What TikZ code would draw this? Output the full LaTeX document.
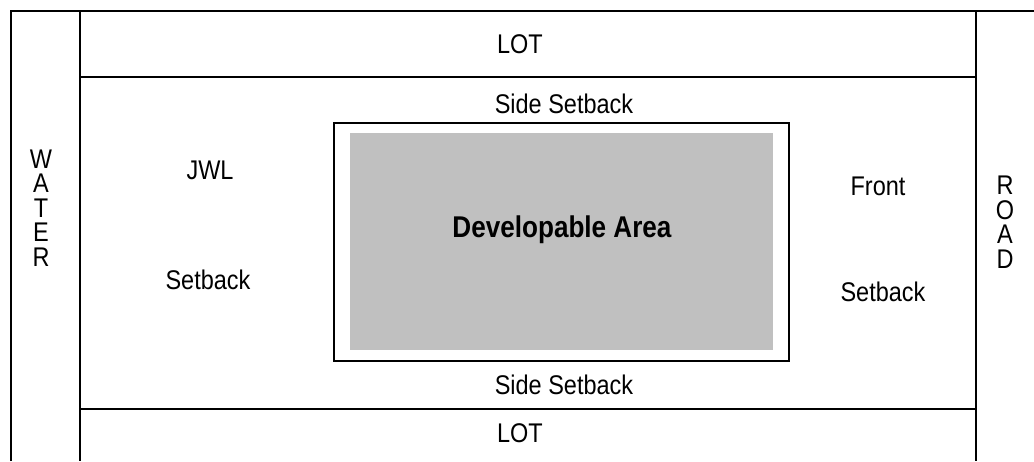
\documentclass[tikz,border=0pt]{standalone}
\usepackage{fontspec}
\setmainfont[FakeStretch=0.87]{Liberation Sans}
\definecolor{areagray}{HTML}{C0C0C0}
\begin{document}
\begin{tikzpicture}[x=1pt,y=-1pt,
  frame/.style={line width=1.6pt,black},
  lbl/.style={font=\fontsize{27}{24.5}\selectfont,inner sep=0pt,align=center},
  boldlbl/.style={font=\fontsize{30}{30}\selectfont\bfseries,inner sep=0pt}]
\useasboundingbox (0,0) rectangle (1034,461);
% frame lines
\draw[frame] (11,461) -- (11,11) -- (1034,11);
\draw[frame] (80,11) -- (80,461);
\draw[frame] (975.7,11) -- (975.7,461);
\draw[frame] (80,77) -- (975.7,77);
\draw[frame] (80,409) -- (975.7,409);
% setback boundary and developable area
\draw[line width=1.5pt] (334,123) rectangle (789,361);
\fill[areagray] (350,133) rectangle (773,350);
% labels
\node[lbl] (lottop) at (520,44) {LOT};
\node[lbl] (sidetop) at (564,104) {Side Setback};
\node[lbl] (jwl) at (210,170) {JWL};
\node[lbl] (jwlset) at (208,280) {Setback};
\node[boldlbl,anchor=base] (dev) at (562,237) {Developable Area};
\node[lbl] (front) at (878,186) {Front};
\node[lbl] (frontset) at (883,292) {Setback};
\node[lbl] (sidebot) at (564,385) {Side Setback};
\node[lbl] (lotbot) at (520,433) {LOT};
\node[lbl] (water) at (41,208) {W\\A\\T\\E\\R};
\node[lbl] (road) at (1005,222) {R\\O\\A\\D};
\end{tikzpicture}
\end{document}
